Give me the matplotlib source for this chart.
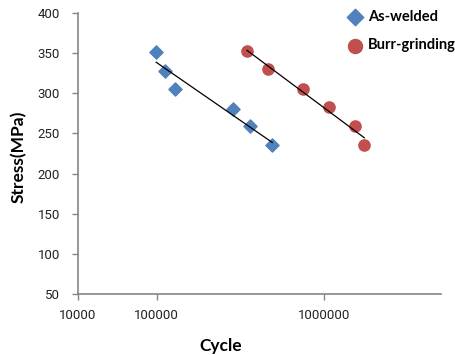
import numpy as np
import matplotlib.pyplot as plt
from matplotlib.ticker import FixedLocator, FuncFormatter

# Data
aw_cycles = [98000, 112000, 128000, 286000, 360000, 490000]
aw_stress = [352, 328, 305, 281, 259, 235]
bg_cycles = [346000, 462000, 743000, 1070000, 1520000, 1740000]
bg_stress = [353, 330, 305, 283, 259, 235]

x_ticks = [10000, 100000, 1000000]
y_ticks = [50, 100, 150, 200, 250, 300, 350, 400]

blue = "#4F81BD"
red = "#C0504D"
grey = "#868686"

plt.rcParams["font.family"] = ["Lato", "DejaVu Sans"]

# the first decade of the original axis is squeezed
k = 79 / 167.6


def fwd(x):
    u = np.log10(np.clip(np.asarray(x, dtype=float), 1e-300, None)) - 5
    return np.where(u >= 0, u, u * k)


def inv(p):
    p = np.asarray(p, dtype=float)
    return np.where(p >= 0, 10 ** (p + 5), 10 ** (p / k + 5))


fig = plt.figure(figsize=(4.55, 3.55), dpi=100)
ax = fig.add_axes([78 / 455, 61 / 355, 363 / 455, 281 / 355])
ax.set_xscale("function", functions=(fwd, inv))

ax.scatter(aw_cycles, aw_stress, marker="D", s=45, color=blue, zorder=3, label="As-welded")
ax.scatter(bg_cycles, bg_stress, marker="o", s=65, color=red, zorder=3, label="Burr-grinding")

# logarithmic trendlines
for xs, ys in [(aw_cycles, aw_stress), (bg_cycles, bg_stress)]:
    lx = np.log10(xs)
    a, b = np.polyfit(lx, ys, 1)
    xx = np.array([min(xs), max(xs)])
    ax.plot(xx, a * np.log10(xx) + b, color="black", linewidth=0.9, zorder=4)

ax.set_xlim(10000, 5.0e6)
ax.set_ylim(50, 400)
ax.xaxis.set_major_locator(FixedLocator(x_ticks))
ax.xaxis.set_minor_locator(FixedLocator([]))
ax.xaxis.set_major_formatter(FuncFormatter(lambda v, p: f"{int(round(v))}"))
ax.set_yticks(y_ticks)

for s in ["top", "right"]:
    ax.spines[s].set_visible(False)
for s in ["left", "bottom"]:
    ax.spines[s].set_color(grey)
    ax.spines[s].set_linewidth(1.2)
ax.tick_params(axis="both", colors=grey, labelcolor="#222222", labelsize=9.5, length=4, width=1)
ax.tick_params(axis="y", pad=9)
ax.tick_params(axis="x", pad=7)
for lab in ax.get_xticklabels() + ax.get_yticklabels():
    lab.set_fontfamily(["Roboto", "DejaVu Sans"])

fig.text(221 / 455, 1 - 346 / 355, "Cycle", ha="center", va="center", fontsize=12.5, fontweight="bold")
fig.text(19 / 455, 1 - 157 / 355, "Stress(MPa)", ha="center", va="center", rotation=90,
         fontsize=12.5, fontweight="bold")

leg = fig.legend(loc="upper left", bbox_to_anchor=(341 / 455, 1 - 4 / 355), frameon=False,
                 prop={"weight": "bold", "size": 10.5}, handletextpad=0.35, labelspacing=1.0,
                 borderaxespad=0, handlelength=1.1, scatterpoints=1, markerscale=1.25)

plt.savefig("out.png", dpi=100)
